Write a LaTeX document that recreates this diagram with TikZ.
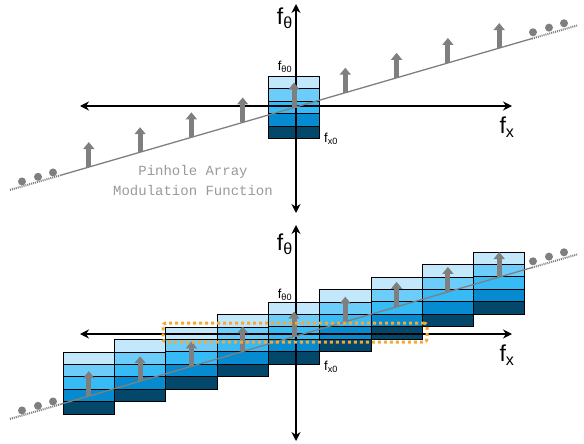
\documentclass[tikz,border=0pt]{standalone}
\usepackage{fontspec}
\setmainfont{Liberation Sans}
\newfontfamily\capfont{Liberation Mono}
\usetikzlibrary{arrows.meta, calc}
\definecolor{bandA}{HTML}{C4E8FB}
\definecolor{bandB}{HTML}{6CCDFB}
\definecolor{bandC}{HTML}{36BBF6}
\definecolor{bandD}{HTML}{068BD0}
\definecolor{bandE}{HTML}{03476B}
\definecolor{pingray}{HTML}{7F7F7F}
\definecolor{window}{HTML}{F7A733}

\tikzset{
  axis/.style={line width=1.7pt, {Stealth[length=9pt,width=9pt,inset=3pt]}-{Stealth[length=9pt,width=9pt,inset=3pt]}},
  band/.style={draw=black, line width=0.8pt},
  samp/.style={draw=pingray, line width=1.3pt},
  sampdot/.style={draw=pingray, line width=2pt, dash pattern=on 1pt off 1pt},
  pinarrow/.style={draw=pingray, fill=pingray, line width=5pt, -{Triangle[length=7pt,width=11pt]}},
  bigf/.style={font=\fontsize{23}{23}\selectfont, inner sep=0pt},
  smallf/.style={font=\fontsize{13}{13}\selectfont, inner sep=0pt},
}

\begin{document}
\begin{tikzpicture}[x=1pt, y=-1pt]
\useasboundingbox (0,0) rectangle (584,444);

% single spectrum (top)
\foreach \j/\col in {0/bandA, 1/bandB, 2/bandC, 3/bandD, 4/bandE}
  \filldraw[band, fill=\col] (294-25.65, 76.5+\j*12.4) rectangle ++(51.3,12.4);

% replicated spectra (bottom)
\foreach \k in {-4,...,4}{
  \pgfmathsetmacro{\cx}{294+51.3*\k}
  \pgfmathsetmacro{\ytop}{302-12.5*\k}
  \foreach \j/\col in {0/bandA, 1/bandB, 2/bandC, 3/bandD, 4/bandE}
    \filldraw[band, fill=\col] (\cx-25.65, \ytop+\j*12.4) rectangle ++(51.3,12.4);
}

% axes, sampling line, pinhole arrows and dots for both panels
\foreach \p/\oy/\dy/\vt/\vb in {t/106/1/4/213, b/334/2/225/441}{
  \coordinate (\p-n) at (296,\vt);
  \coordinate (\p-s) at (296,\vb);
  \coordinate (\p-w) at (80,\oy);
  \coordinate (\p-e) at (512,\oy);
  \draw[axis] (\p-s) -- (\p-n);
  \draw[axis] (\p-w) -- (\p-e);
  \foreach \x/\q in {10/0, 60/1, 532/2, 577/3}{
    \pgfmathsetmacro{\ly}{\oy+\dy+0.29*(296-\x)}
    \coordinate (\p-l\q) at (\x,\ly);
  }
  \draw[sampdot] (\p-l0) -- (\p-l1);
  \draw[samp] (\p-l1) -- (\p-l2);
  \draw[sampdot] (\p-l2) -- (\p-l3);
  \foreach \i in {-4,...,4}{
    \pgfmathsetmacro{\x}{294+51.3*\i}
    \pgfmathsetmacro{\ly}{\oy+\dy+0.29*(296-\x)}
    \coordinate (\p-a\i) at (\x,\ly);
    \coordinate (\p-h\i) at (\x,\ly-25);
    \draw[pinarrow] (\p-a\i) -- (\p-h\i);
  }
  \foreach \x/\up in {22/5, 38/5, 53/5, 533/6, 549/6, 564/6}{
    \pgfmathsetmacro{\ly}{\oy+\dy+0.29*(296-\x)-\up}
    \fill[pingray] (\x,\ly) circle (4pt);
  }
}

% labels
\node[bigf, anchor=east] (t-ftheta) at (293,18) {f\textsubscript{θ}};
\node[bigf] (t-fx) at (507,127) {f\textsubscript{x}};
\node[smallf] (t-ftheta0) at (285,67) {f\textsubscript{θ0}};
\node[smallf] (t-fx0) at (331,139) {f\textsubscript{x0}};
\node[bigf, anchor=east] (b-ftheta) at (293,244) {f\textsubscript{θ}};
\node[bigf] (b-fx) at (507,355) {f\textsubscript{x}};
\node[smallf] (b-ftheta0) at (285,295) {f\textsubscript{θ0}};
\node[smallf] (b-fx0) at (331,367) {f\textsubscript{x0}};

\node[font=\capfont\fontsize{14}{20}\selectfont, text=gray!80, align=center] (caption) at (193,181)
  {Pinhole Array\\Modulation Function};

% highlighted row
\node[draw=window, line width=3pt, dash pattern=on 3pt off 3pt, rounded corners=3pt,
  minimum width=264pt, minimum height=19pt, inner sep=0pt] (window) at (295,332.5) {};
\end{tikzpicture}
\end{document}
